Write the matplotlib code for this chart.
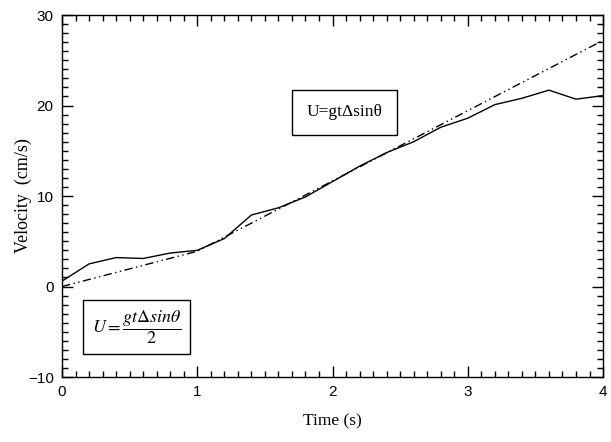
import matplotlib.pyplot as plt
from matplotlib.ticker import MultipleLocator
from matplotlib.patches import Rectangle

# measured velocity
time_s = [0.0, 0.2, 0.4, 0.6, 0.8, 1.0, 1.2, 1.4, 1.6, 1.8, 2.0,
          2.2, 2.4, 2.6, 2.8, 3.0, 3.2, 3.4, 3.6, 3.8, 4.0]
velocity = [0.6, 2.5, 3.2, 3.1, 3.7, 4.0, 5.3, 7.9, 8.7, 9.9, 11.6,
            13.3, 14.8, 16.0, 17.6, 18.6, 20.1, 20.8, 21.7, 20.7, 21.1]

# theory (two regimes)
theory_t = [0.0, 1.0, 4.0]
theory_u = [0.0, 3.9, 27.2]

plt.rcParams['mathtext.fontset'] = 'stix'

fig = plt.figure(figsize=(6.11, 4.42), dpi=100)
ax = fig.add_axes([0.1015, 0.147, 0.8855, 0.819])

ax.plot(time_s, velocity, color='black', lw=1.0)
ax.plot(theory_t, theory_u, color='black', lw=1.0, dashes=(6, 2.5, 1, 2.5, 1, 2.5))

ax.set_xlim(0, 4)
ax.set_ylim(-10, 30)
ax.xaxis.set_major_locator(MultipleLocator(1))
ax.xaxis.set_minor_locator(MultipleLocator(0.1))
ax.yaxis.set_major_locator(MultipleLocator(10))
ax.yaxis.set_minor_locator(MultipleLocator(1))
ax.tick_params(which='both', direction='in', top=True, right=True, width=1)
ax.tick_params(which='major', length=8, labelsize=11, pad=6)
ax.tick_params(which='minor', length=4)
for lab in ax.get_xticklabels() + ax.get_yticklabels():
    lab.set_family('Liberation Sans')
for sp in ax.spines.values():
    sp.set_linewidth(1.0)

ax.set_xlabel('Time (s)', family='Liberation Serif', fontsize=12.5, labelpad=10)
ax.set_ylabel('Velocity  (cm/s)', family='Liberation Serif', fontsize=13, labelpad=-3)

# annotation boxes (axes fraction)
ax.add_patch(Rectangle((0.425, 0.668), 0.194, 0.125, transform=ax.transAxes,
                       fill=False, lw=1.0, color='black'))
ax.text(0.522, 0.731, 'U=gt\u0394sin\u03b8', transform=ax.transAxes,
        ha='center', va='center', family='Liberation Serif', fontsize=12.5)

ax.add_patch(Rectangle((0.039, 0.064), 0.197, 0.149, transform=ax.transAxes,
                       fill=False, lw=1.0, color='black'))
ax.text(0.138, 0.138, r'$U = \dfrac{gt\Delta sin\theta}{2}$', transform=ax.transAxes,
        ha='center', va='center', fontsize=13)

plt.savefig('out.png', dpi=100)
